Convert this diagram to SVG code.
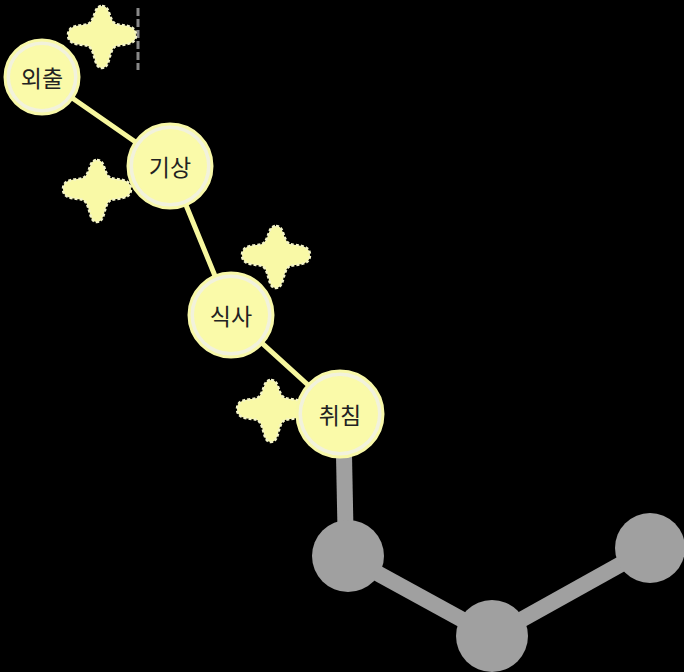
<svg xmlns="http://www.w3.org/2000/svg" width="684" height="672" viewBox="0 0 684 672">
<defs>
<style>
.edge{stroke:#f7f79e;stroke-width:5;stroke-linecap:round;fill:none}
.gedge{stroke:#a0a0a0;stroke-width:16;fill:none}
.ring{fill:none;stroke:#f8f8a8;stroke-width:3}
.gap{fill:#f2f2dc}
.core{fill:#fafaa9}
.gnode{fill:#a0a0a0}
.lbl{font-family:"Noto Sans CJK KR","Noto Sans",sans-serif;font-size:23px;fill:#222;text-anchor:middle;dominant-baseline:central}
.spark{fill:#f9f9a6;stroke:#f4f4c8;stroke-width:2.5;stroke-dasharray:3,2}
</style>
<path id="star" d="M0,-32 C9,-32 6,-18 14,-14 C20,-12 34,-14 34,-3 C34,8 20,6 14,8 C6,12 9,30 0,30 C-9,30 -6,12 -14,8 C-20,6 -34,8 -34,-3 C-34,-14 -20,-12 -14,-14 C-6,-18 -9,-32 0,-32 Z"/>
</defs>
<rect width="684" height="672" fill="#000"/>
<line x1="138" y1="8" x2="138" y2="70" stroke="#888" stroke-width="3" stroke-dasharray="8,3"/>
<g id="connectors">
<line class="edge" x1="42" y1="77" x2="170" y2="166"/>
<line class="edge" x1="170" y1="166" x2="231" y2="315"/>
<line class="edge" x1="231" y1="315" x2="340" y2="414"/>
<line class="gedge" x1="344" y1="455" x2="346" y2="556"/>
<line class="gedge" x1="346" y1="556" x2="492" y2="636"/>
<line class="gedge" x1="492" y1="636" x2="650" y2="548"/>
</g>
<g id="sparkles">
<use href="#star" class="spark" x="102" y="38"/>
<use href="#star" class="spark" x="97" y="192"/>
<use href="#star" class="spark" x="276" y="258"/>
<use href="#star" class="spark" x="271" y="412"/>
</g>
<g id="n1"><circle class="gap" cx="42" cy="77" r="37"/><circle class="ring" cx="42" cy="77" r="37"/><circle class="core" cx="42" cy="77" r="32"/><text class="lbl" x="42" y="77">외출</text></g>
<g id="n2"><circle class="gap" cx="170" cy="166" r="42"/><circle class="ring" cx="170" cy="166" r="42"/><circle class="core" cx="170" cy="166" r="37"/><text class="lbl" x="170" y="166">기상</text></g>
<g id="n3"><circle class="gap" cx="231" cy="315" r="42"/><circle class="ring" cx="231" cy="315" r="42"/><circle class="core" cx="231" cy="315" r="37"/><text class="lbl" x="231" y="315">식사</text></g>
<g id="n4"><circle class="gap" cx="340" cy="414" r="43"/><circle class="ring" cx="340" cy="414" r="43"/><circle class="core" cx="340" cy="414" r="38"/><text class="lbl" x="340" y="414">취침</text></g>
<g id="g1"><circle class="gnode" cx="348" cy="556" r="36"/></g>
<g id="g2"><circle class="gnode" cx="492" cy="636" r="36"/></g>
<g id="g3"><circle class="gnode" cx="650" cy="548" r="35"/></g>
</svg>
